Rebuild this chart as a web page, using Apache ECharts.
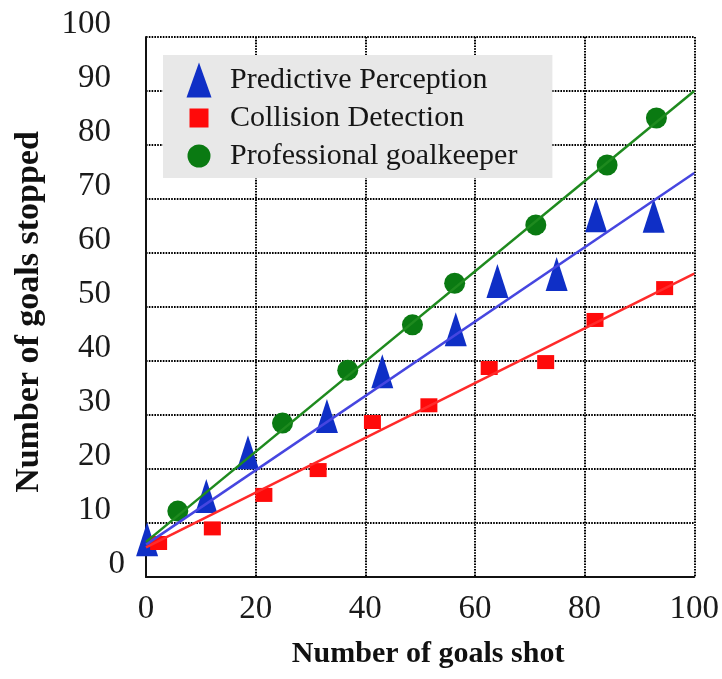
<!DOCTYPE html>
<html>
<head>
<meta charset="utf-8">
<script src="https://cdn.jsdelivr.net/npm/echarts@6/dist/echarts.min.js"></script>
<style>
html,body{margin:0;padding:0;background:#fff;}
#chart{width:722px;height:679px;}
</style>
</head>
<body>
<div id="chart"></div>
<script>
// ---- data ----
const seriesNames = ['Predictive Perception', 'Collision Detection', 'Professional goalkeeper'];
const xTicks = [0, 20, 40, 60, 80, 100];
const yTicks = [0, 10, 20, 30, 40, 50, 60, 70, 80, 90, 100];

const predictivePoints = [
  [0.2, 7.0], [11.0, 15.0], [18.6, 23.1], [33.0, 29.8], [43.1, 38.1],
  [56.5, 45.9], [64.1, 54.8], [74.9, 56.1], [82.1, 67.0], [92.6, 66.9]
];
const collisionPoints = [
  [2.3, 6.3], [12.1, 9.0], [21.5, 15.2], [31.4, 19.8], [41.3, 28.7],
  [51.6, 31.8], [62.6, 38.7], [72.9, 39.8], [81.9, 47.6], [94.6, 53.5]
];
const goalkeeperPoints = [
  [5.8, 12.2], [24.9, 28.5], [36.8, 38.3], [48.6, 46.7],
  [56.3, 54.4], [71.1, 65.2], [84.1, 76.3], [93.1, 85.0]
];
// fitted trend lines (end points)
const predictiveFit = [[0, 6.0], [100, 74.8]];
const collisionFit = [[0, 5.5], [100, 56.2]];
const goalkeeperFit = [[0, 6.5], [100, 90.0]];

// ---- chart ----
const FONT = 'Liberation Serif';
const BLUE = '#0f2fc6', RED = '#ff0a0a', GREEN = '#0a7a12';
const BLUE_LINE = '#4646e0', RED_LINE = '#ff2a2a', GREEN_LINE = '#1e8a1e';
const dotted = { color: '#000000', width: 2, type: [1.6, 1.2] };

const chart = echarts.init(document.getElementById('chart'), null, { renderer: 'canvas' });

const boxPre = 'path://M0,0M44,36';
const option = {
  backgroundColor: '#ffffff',
  animation: false,
  grid: { left: 146, right: 22, top: 37, bottom: 102, containLabel: false },
  legend: {
    left: 163, top: 55,
    orient: 'vertical',
    backgroundColor: '#e8e8e8',
    padding: [7, 35, 4, 23],
    itemWidth: 44, itemHeight: 36, itemGap: 2,
    selectedMode: false,
    textStyle: { fontFamily: FONT, fontSize: 30, color: '#161616', padding: [0, 0, 0, -5] },
    data: [
      { name: seriesNames[0], icon: boxPre + 'M13,0.5L25.5,35.5L0.5,35.5Z' },
      { name: seriesNames[1], icon: boxPre + 'M3.5,8.5h19v19h-19Z' },
      { name: seriesNames[2], icon: boxPre + 'M1.5,18a11.5,11.5 0 1,0 23,0a11.5,11.5 0 1,0 -23,0Z' }
    ]
  },
  xAxis: {
    type: 'value', min: xTicks[0], max: xTicks[xTicks.length - 1], interval: 20,
    name: 'Number of goals shot', nameLocation: 'middle', nameGap: 62,
    nameTextStyle: { fontFamily: FONT, fontSize: 30, fontWeight: 'bold', color: '#111', padding: [0, 0, 0, 16] },
    axisLine: { show: true, onZero: false, lineStyle: { color: '#111', width: 2 } },
    axisTick: { show: false },
    axisLabel: { margin: 16, fontFamily: FONT, fontSize: 33, color: '#1a1a1a' },
    splitLine: { show: true, lineStyle: dotted }
  },
  yAxis: {
    type: 'value', min: yTicks[0], max: yTicks[yTicks.length - 1], interval: 10,
    name: 'Number of goals stopped', nameLocation: 'middle', nameGap: 100, nameRotate: 90,
    nameTextStyle: { fontFamily: FONT, fontSize: 34, fontWeight: 'bold', color: '#111', padding: [0, 10, 0, 0] },
    axisLine: { show: true, onZero: false, lineStyle: { color: '#111', width: 2 } },
    axisTick: { show: false },
    axisLabel: {
      margin: 21, fontFamily: FONT, fontSize: 33, color: '#1a1a1a', padding: [0, 0, 26, 0],
      formatter: v => (v === 0 ? '{z|0}' : '{n|' + v + '}'),
      rich: {
        z: { fontFamily: FONT, fontSize: 33, color: '#1a1a1a' },
        n: { fontFamily: FONT, fontSize: 33, color: '#1a1a1a', padding: [0, 14, 0, 0] }
      }
    },
    splitLine: { show: true, lineStyle: dotted }
  },
  series: [
    {
      name: seriesNames[0], type: 'scatter', data: predictivePoints, clip: false,
      symbol: 'triangle', symbolSize: [22, 34], itemStyle: { color: BLUE, opacity: 1 }, z: 3
    },
    {
      name: seriesNames[1], type: 'scatter', data: collisionPoints, clip: false,
      symbol: 'rect', symbolSize: [17, 14], itemStyle: { color: RED, opacity: 1 }, z: 3
    },
    {
      name: seriesNames[2], type: 'scatter', data: goalkeeperPoints, clip: false,
      symbol: 'circle', symbolSize: 21, itemStyle: { color: GREEN, opacity: 1 }, z: 3
    },
    {
      name: 'predictive-fit', type: 'line', data: predictiveFit, showSymbol: false, symbol: 'none',
      lineStyle: { color: BLUE_LINE, width: 2.5 }, z: 4, silent: true
    },
    {
      name: 'collision-fit', type: 'line', data: collisionFit, showSymbol: false, symbol: 'none',
      lineStyle: { color: RED_LINE, width: 2.5 }, z: 4, silent: true
    },
    {
      name: 'goalkeeper-fit', type: 'line', data: goalkeeperFit, showSymbol: false, symbol: 'none',
      lineStyle: { color: GREEN_LINE, width: 2.5 }, z: 4, silent: true
    }
  ]
};
chart.setOption(option);
</script>
</body>
</html>
